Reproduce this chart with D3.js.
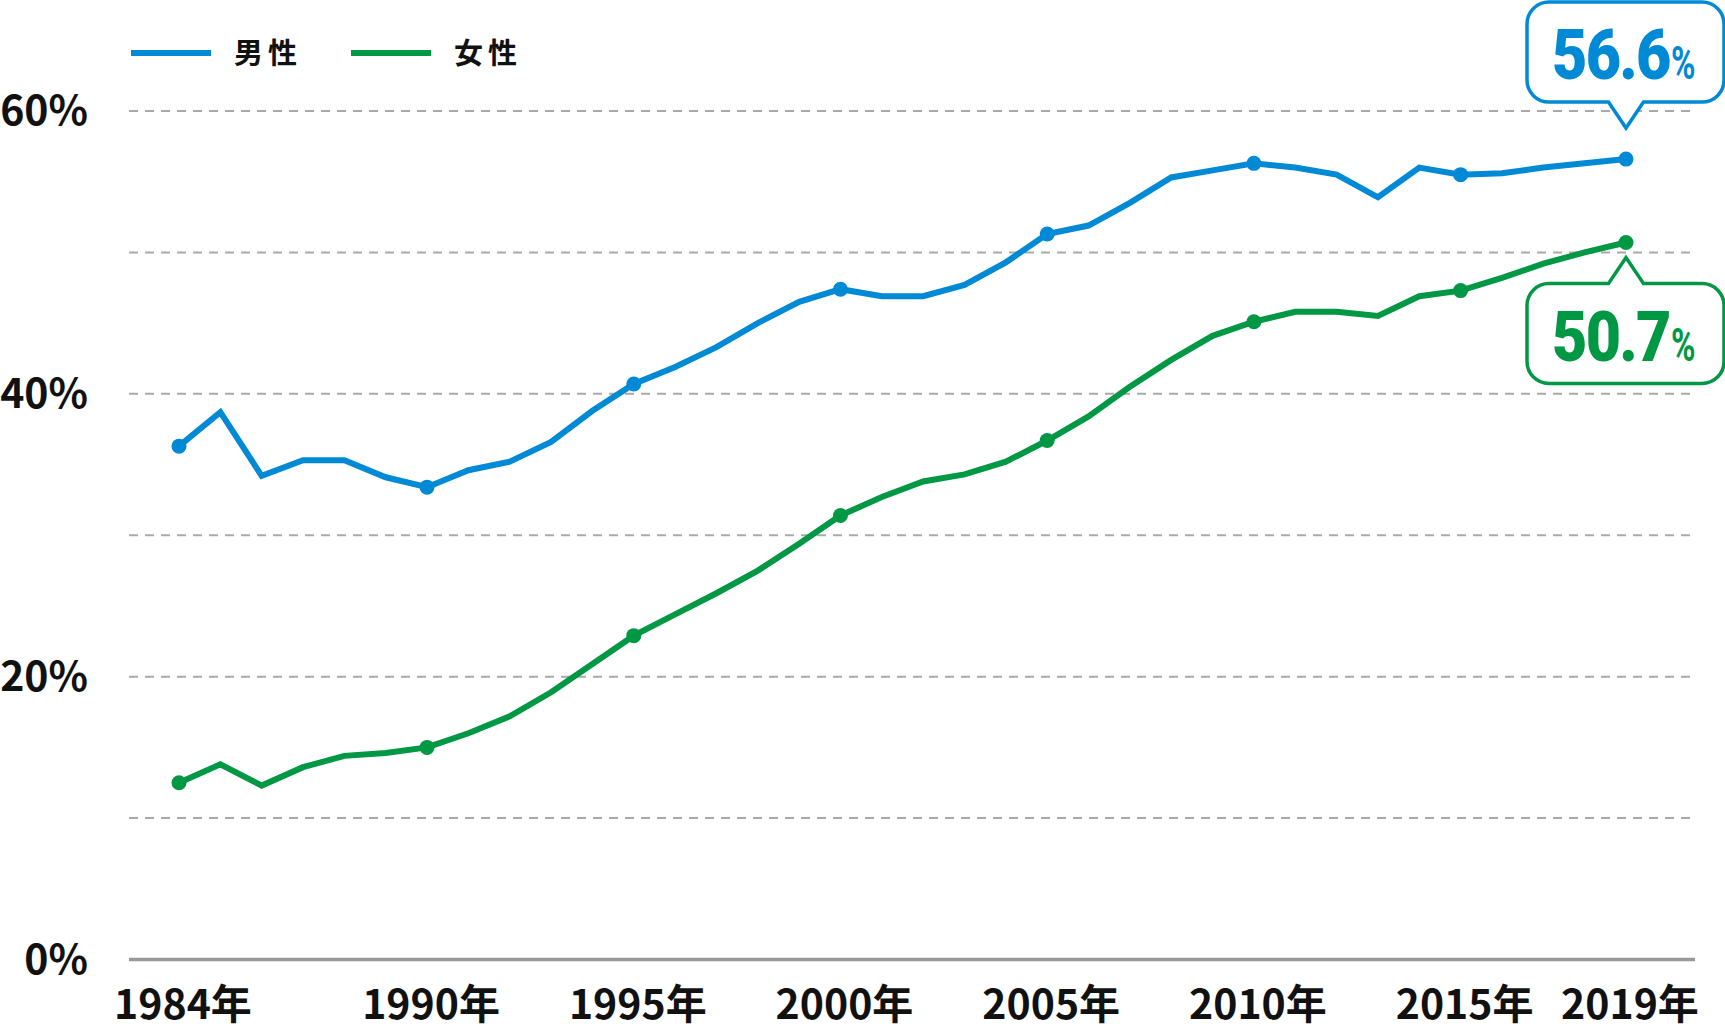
<!DOCTYPE html>
<html><head><meta charset="utf-8">
<script src="https://cdn.jsdelivr.net/npm/d3@7"></script>
<style>html,body{margin:0;padding:0;background:#fff;}svg{display:block;}</style>
</head><body>
<svg id="chart" width="1725" height="1030"></svg>
<script>
const years = d3.range(1984, 2020);
const male = [36.3,38.7,34.2,35.3,35.3,34.1,33.4,34.6,35.2,36.6,38.8,40.7,41.9,43.3,45.0,46.5,47.4,46.9,46.9,47.7,49.3,51.3,51.9,53.5,55.3,55.8,56.3,56.0,55.5,53.9,56.0,55.5,55.6,56.0,56.3,56.6];
const female = [12.5,13.8,12.3,13.6,14.4,14.6,15.0,16.0,17.2,18.9,20.9,22.9,24.4,25.9,27.5,29.4,31.4,32.7,33.8,34.3,35.2,36.7,38.4,40.5,42.4,44.1,45.1,45.8,45.8,45.5,46.9,47.3,48.2,49.2,50.0,50.7];
const markerYears = [1984,1990,1995,2000,2005,2010,2015,2019];
const xTickYears = [1984,1990,1995,2000,2005,2010,2015,2019];
const yGrid = [10,20,30,40,50,60];
const yLabels = [0,20,40,60];
const seriesNames = ["男性","女性"];
const colors = ["#008AD6","#009844"];
const calloutText = ["56.6","50.7"];

const svg = d3.select("#chart");
const x = d3.scaleLinear().domain([1984,2019]).range([179,1626]);
const y = d3.scaleLinear().domain([0,60]).range([959.5,111]);
const font = "'Noto Sans CJK JP','Noto Sans',sans-serif";

// grid
svg.append("g").selectAll("line").data(yGrid).join("line")
  .attr("x1",129).attr("x2",1695).attr("y1",d=>y(d)).attr("y2",d=>y(d))
  .attr("stroke","#aaa").attr("stroke-width",2).attr("stroke-dasharray","9,7");
svg.append("line").attr("x1",129).attr("x2",1695).attr("y1",y(0)).attr("y2",y(0))
  .attr("stroke","#999").attr("stroke-width",3.5);

// y labels
svg.append("g").selectAll("text").data(yLabels).join("text")
  .attr("x",88).attr("y",d=>y(d)+14).attr("text-anchor","end")
  .attr("font-family",font).attr("font-weight",700).attr("font-size",41).attr("fill","#111")
  .text(d=>d+"%");
// x labels
svg.append("g").selectAll("text").data(xTickYears).join("text")
  .attr("x",d=>x(d)+4).attr("y",1019).attr("text-anchor","middle")
  .attr("font-family",font).attr("font-weight",700).attr("font-size",41).attr("fill","#111")
  .text(d=>d+"年");

// lines
const series = [male,female];
const line = d3.line().x((d,i)=>x(years[i])).y(d=>y(d));
series.forEach((s,k)=>{
  svg.append("path").datum(s).attr("d",line).attr("fill","none")
    .attr("stroke",colors[k]).attr("stroke-width",6).attr("stroke-linejoin","miter");
  svg.append("g").selectAll("circle").data(markerYears).join("circle")
    .attr("cx",d=>x(d)).attr("cy",d=>y(s[years.indexOf(d)])).attr("r",7.5).attr("fill",colors[k]);
});

// legend
const legX = [131,351];
seriesNames.forEach((n,k)=>{
  svg.append("line").attr("x1",legX[k]).attr("x2",legX[k]+80).attr("y1",53).attr("y2",53)
    .attr("stroke",colors[k]).attr("stroke-width",6);
  svg.append("text").attr("x",legX[k]+103).attr("y",64).attr("font-family",font)
    .attr("font-weight",700).attr("font-size",29).attr("letter-spacing",5).attr("fill","#111").text(n);
});

// callouts
function bubble(k, tipX, tipY, up){
  const w=197, h=100, r=22, pw=35, ph=26;
  const left = 1527, right = left+w;
  const top = up ? tipY+ph : tipY-ph-h;
  const bottom = top+h;
  const p = d3.path();
  p.moveTo(left+r, top);
  if(up){ p.lineTo(tipX-pw/2, top); p.lineTo(tipX, tipY); p.lineTo(tipX+pw/2, top); }
  p.lineTo(right-r, top); p.arcTo(right, top, right, top+r, r);
  p.lineTo(right, bottom-r); p.arcTo(right, bottom, right-r, bottom, r);
  if(!up){ p.lineTo(tipX+pw/2, bottom); p.lineTo(tipX, tipY); p.lineTo(tipX-pw/2, bottom); }
  p.lineTo(left+r, bottom); p.arcTo(left, bottom, left, bottom-r, r);
  p.lineTo(left, top+r); p.arcTo(left, top, left+r, top, r);
  p.closePath();
  svg.append("path").attr("d",p.toString()).attr("fill","#fff").attr("stroke",colors[k]).attr("stroke-width",3.5);
  const base = top+77;
  svg.append("text").attr("transform",`translate(1552,${base}) scale(0.86,1)`)
    .attr("font-family","Roboto,'Noto Sans',sans-serif").attr("font-weight",900).attr("font-size",71)
    .attr("fill",colors[k]).attr("letter-spacing",-2).text(calloutText[k]);
  svg.append("text").attr("transform",`translate(1671,${base}) scale(0.72,1)`)
    .attr("font-family","Roboto,'Noto Sans',sans-serif").attr("font-weight",700).attr("font-size",46)
    .attr("fill",colors[k]).text("%");
}
bubble(0, x(2019), y(male[male.length-1])-31, false);
bubble(1, x(2019), y(female[female.length-1])+15, true);
</script>
</body></html>
